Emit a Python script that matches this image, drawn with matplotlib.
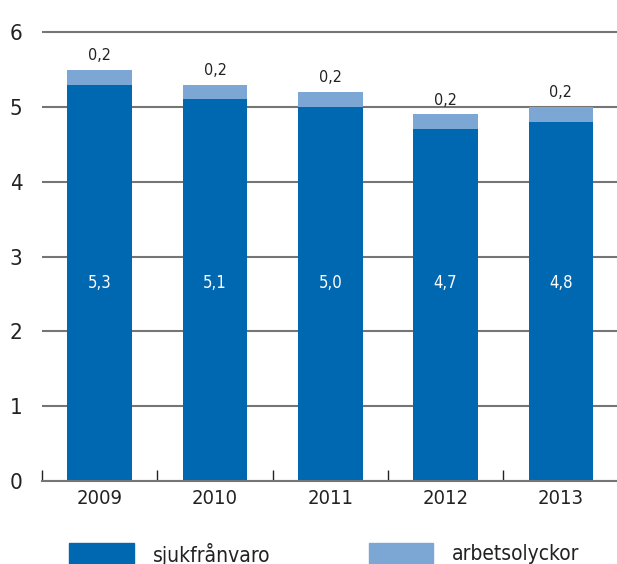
import matplotlib.pyplot as plt
import matplotlib.patches as mpatches
import numpy as np

years = ["2009", "2010", "2011", "2012", "2013"]
sjukfranvaro = [5.3, 5.1, 5.0, 4.7, 4.8]
arbetsolyckor = [0.2, 0.2, 0.2, 0.2, 0.2]

DARK = "#0068b1"
LIGHT = "#7ca7d5"
GRID = "#757575"

plt.rcParams["font.family"] = ["DejaVu Sans"]
plt.rcParams["font.stretch"] = "condensed"

fig = plt.figure(figsize=(6.17, 5.64), dpi=100)
# y range runs a little past 6 so the top grid line is not clipped
ymax = 6.03
ax = fig.add_axes([0.068, 0.147, 1.0, 0.796 * ymax / 6])

x = np.arange(len(years))
width = 0.56

ax.bar(x, sjukfranvaro, width, color=DARK, zorder=3)
ax.bar(x, arbetsolyckor, width, bottom=sjukfranvaro, color=LIGHT, zorder=3)

for xi, s, a in zip(x, sjukfranvaro, arbetsolyckor):
    # the value inside the dark bar sits at the same height for every year
    ax.text(xi, 2.65, f"{s:.1f}".replace(".", ","), ha="center", va="center",
            color="white", fontsize=12, fontstretch="condensed")
    ax.annotate(f"{a:.1f}".replace(".", ","), (xi, s + a), xytext=(0, 5),
                textcoords="offset points", ha="center", va="bottom",
                color="#222222", fontsize=11.5, fontstretch="condensed")

ax.set_xlim(-0.5, 4.85)
ax.set_ylim(0, ymax)
ax.set_yticks(range(7))
ax.yaxis.grid(True, color=GRID, linewidth=1.5, zorder=1)
ax.tick_params(axis="y", length=0, labelsize=16, pad=14, labelcolor="#222222")

# year labels centred, tick marks at the category boundaries
ax.set_xticks(x)
ax.set_xticklabels(years)
ax.set_xticks(np.arange(len(years)) - 0.5, minor=True)
ax.tick_params(axis="x", which="major", length=0, labelsize=14.5, pad=6,
               labelcolor="#222222")
ax.tick_params(axis="x", which="minor", direction="in", length=8,
               width=1, color="#222222")

for side in ["left", "right", "top"]:
    ax.spines[side].set_visible(False)
ax.spines["bottom"].set_color(GRID)
ax.spines["bottom"].set_linewidth(1.5)
ax.spines["bottom"].set_zorder(4)

# legend along the bottom edge
fig.patches.append(mpatches.Rectangle((69 / 617, 0), 65 / 617, 21 / 564,
                                      color=DARK, transform=fig.transFigure))
fig.text(153 / 617, 10 / 564, "sjukfrånvaro", fontsize=15, va="center",
         color="#222222")
fig.patches.append(mpatches.Rectangle((369 / 617, 0), 64 / 617, 21 / 564,
                                      color=LIGHT, transform=fig.transFigure))
fig.text(452 / 617, 10 / 564, "arbetsolyckor", fontsize=15, va="center",
         color="#222222")

fig.savefig("out.png", dpi=100)
